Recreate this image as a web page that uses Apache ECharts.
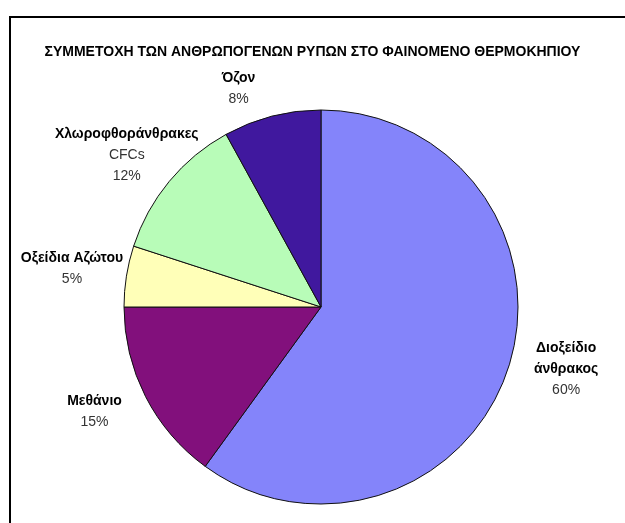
<!DOCTYPE html>
<html>
<head>
<meta charset="utf-8">
<script src="https://cdn.jsdelivr.net/npm/echarts@6/dist/echarts.min.js"></script>
<style>
  html, body { margin: 0; padding: 0; background: #fff; }
  #chart { width: 625px; height: 523px; }
</style>
</head>
<body>
<div id="chart"></div>
<script>
// Share of anthropogenic pollutants in the greenhouse effect (percent)
const titleText = 'ΣΥΜΜΕΤΟΧΗ ΤΩΝ ΑΝΘΡΩΠΟΓΕΝΩΝ ΡΥΠΩΝ ΣΤΟ ΦΑΙΝΟΜΕΝΟ ΘΕΡΜΟΚΗΠΙΟΥ';
const names = ['Διοξείδιο\nάνθρακος', 'Μεθάνιο', 'Οξείδια Αζώτου', 'Χλωροφθοράνθρακες', 'Όζον'];
const notes = ['', '', '', 'CFCs', ''];
const values = [60, 15, 5, 12, 8];
const colors = ['#8484fa', '#82107c', '#ffffb8', '#b8fcb8', '#40189e'];

// small per-label nudges away from the default outside placement
const labelNudge = [[14, -13], [-10, -6], [-9, 0], [-7, 3], [-22, 17]];

const chart = echarts.init(document.getElementById('chart'), null, { renderer: 'canvas' });

const data = names.map((n, i) => ({
  name: n,
  value: values[i],
  note: notes[i],
  itemStyle: { color: colors[i] }
}));

const font = 'Liberation Sans, Arial, sans-serif';

chart.setOption({
  animation: false,
  backgroundColor: '#fff',
  title: {
    text: titleText,
    left: 'center',
    top: 40,
    textStyle: { fontFamily: font, fontSize: 14, fontWeight: 'bold', color: '#000' }
  },
  graphic: [{
    type: 'rect',
    shape: { x: 10, y: 17, width: 700, height: 600 },
    style: { fill: 'none', stroke: '#000', lineWidth: 2 },
    silent: true,
    z: -10
  }],
  series: [{
    type: 'pie',
    center: [321, 307],
    radius: 197,
    startAngle: 90,
    clockwise: true,
    avoidLabelOverlap: false,
    data: data,
    itemStyle: { borderColor: '#111', borderWidth: 1 },
    emphasis: { disabled: true },
    labelLine: { show: false, length: 46, length2: 0 },
    label: {
      position: 'outside',
      alignTo: 'none',
      distanceToLabelLine: 0,
      formatter: p => {
        const lines = p.name.split('\n').map(s => '{b|' + s + '}');
        if (p.data.note) lines.push('{p|' + p.data.note + '}');
        lines.push('{p|' + p.value + '%}');
        return lines.join('\n');
      },
      rich: {
        b: { fontFamily: font, fontSize: 14, fontWeight: 'bold', color: '#000', lineHeight: 21, align: 'center' },
        p: { fontFamily: font, fontSize: 14, color: '#333', lineHeight: 21, align: 'center' }
      }
    },
    labelLayout: p => ({
      align: 'center',
      verticalAlign: 'middle',
      dx: labelNudge[p.dataIndex][0],
      dy: labelNudge[p.dataIndex][1]
    })
  }]
});
</script>
</body>
</html>
